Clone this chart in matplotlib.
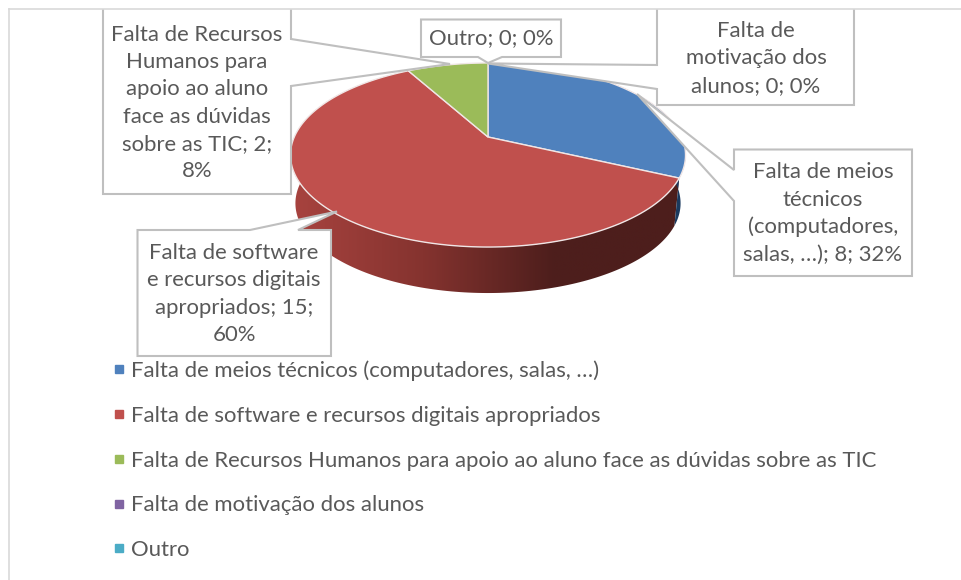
import numpy as np
import matplotlib
matplotlib.use('Agg')
import matplotlib.pyplot as plt
from matplotlib.colors import LinearSegmentedColormap
from matplotlib.lines import Line2D
from matplotlib.patches import Polygon, Rectangle

categories = ['Falta de meios técnicos (computadores, salas, …)',
              'Falta de software e recursos digitais apropriados',
              'Falta de Recursos Humanos para apoio ao aluno face as dúvidas sobre as TIC',
              'Falta de motivação dos alunos',
              'Outro']
values = [8, 15, 2, 0, 0]
percents = ['32%', '60%', '8%', '0%', '0%']
colors = ['#4f81bd', '#c0504d', '#9bbb59', '#8064a2', '#4bacc6']

plt.rcParams['font.family'] = ['Lato', 'DejaVu Sans']
TEXT = '#595959'
BOX = '#bfbfbf'
FS = 15.9

# pie projection in pixels, the pie is a tilted disc with some perspective
CX, CY = 488.0, 137.0
A, B, K = 88.5, 193.7, 0.1957
DEPTH_SCALE, DEPTH_DY = 0.975, 48.75


def project(t, scale=1.0, dy=0.0):
    u = np.sin(t)
    v = np.cos(t)
    d = 1 + K * v
    return np.column_stack([CX + scale * B * u / d, CY + dy - scale * A * v / d])


def callout(points):
    ax.add_patch(Polygon(points, closed=True, facecolor='white', edgecolor=BOX,
                         linewidth=1.5, joinstyle='miter', zorder=5))


def side_wall(t0, t1):
    ts = np.linspace(t0, t1, 200)
    return np.vstack([project(ts), project(ts, DEPTH_SCALE, DEPTH_DY)[::-1]])


fig = plt.figure(figsize=(9.61, 5.80), dpi=100)
ax = fig.add_axes([0, 0, 1, 1])
ax.axis('off')

# slice limits come from the values
edges = np.concatenate([[0], np.cumsum(values)]) / sum(values) * 2 * np.pi

# side wall of the red slice, gradient image clipped to its outline
wall_cmap = LinearSegmentedColormap.from_list('wall', ['#a8433f', '#85332f', '#4d1e1c', '#4d1e1c'])
gradient = np.linspace(0, 1, 256).reshape(1, -1)
im = ax.imshow(gradient, cmap=wall_cmap, extent=(291, 686, 300, 140), aspect='auto', zorder=1)
wall = Polygon(side_wall(edges[1], edges[2]), closed=True, transform=ax.transData,
               facecolor='none', edgecolor='none')
ax.add_patch(wall)
im.set_clip_path(wall)

# side wall of the blue slice, only a sliver shows on the right
ax.add_patch(Polygon(side_wall(edges[0], edges[1]), closed=True, facecolor='#1b3a5f',
                     edgecolor='none', zorder=1))

ax.set_xlim(0, 961)
ax.set_ylim(580, 0)

# top face
for i in range(len(values)):
    if values[i] == 0:
        continue
    ts = np.linspace(edges[i], edges[i + 1], 200)
    rim = project(ts)
    pts = np.vstack([[CX, CY], rim])
    ax.add_patch(Polygon(pts, closed=True, facecolor=colors[i], edgecolor='#f0e6e6',
                         linewidth=1.0, zorder=2))

# callouts, their white fill cuts into the pie like in the original
callout([(103, 4), (291, 4), (291, 39), (450, 64), (291, 86), (291, 194), (103, 194)])
callout([(657, 4), (854, 4), (854, 105), (657, 105), (657, 89), (488, 63.5), (657, 65)])
callout([(421, 19.5), (561, 19.5), (561, 57), (502, 57), (488, 63), (478, 57), (421, 57)])
callout([(734, 149.5), (912, 149.5), (912, 276), (734, 276), (734, 201), (637, 94), (734, 170)])
callout([(137.5, 230), (250, 230), (337, 211.5), (298, 230), (331, 230), (331, 356), (137.5, 356)])

# everything above the frame line is cut off
ax.add_patch(Rectangle((0, 0), 961, 9, facecolor='white', edgecolor='none', zorder=6))
ax.add_line(Line2D([8.5, 961], [9.3, 9.3], color='#d9d9d9', lw=1.2, zorder=7))
ax.add_line(Line2D([8.5, 8.5], [9.3, 580], color='#d9d9d9', lw=1.2, zorder=7))

labels = ['Falta de meios\ntécnicos\n(computadores,\nsalas, …); %d; %s' % (values[0], percents[0]),
          'Falta de software\ne recursos digitais\napropriados; %d;\n%s' % (values[1], percents[1]),
          'Falta de Recursos\nHumanos para\napoio ao aluno\nface as dúvidas\nsobre as TIC; %d;\n%s' % (values[2], percents[2]),
          'Falta de\nmotivação dos\nalunos; %d; %s' % (values[3], percents[3]),
          'Outro; %d; %s' % (values[4], percents[4])]
label_pos = [(823, 213.5), (234, 294), (197, 103), (756, 58.5), (491, 38)]
for txt, pos in zip(labels, label_pos):
    ax.text(pos[0], pos[1], txt, ha='center', va='center', fontsize=FS, color=TEXT,
            linespacing=1.445, zorder=8)

handles = [Line2D([], [], linestyle='none', marker='s', markersize=5.6, color=c) for c in colors]
ax.legend(handles, categories, loc='upper left', bbox_to_anchor=(107.5, 360.5),
          bbox_transform=ax.transData, frameon=False, fontsize=FS, labelcolor=TEXT,
          labelspacing=1.12, handlelength=1.0, handletextpad=0.07,
          borderpad=0, borderaxespad=0)

fig.savefig('out.png', dpi=100)
